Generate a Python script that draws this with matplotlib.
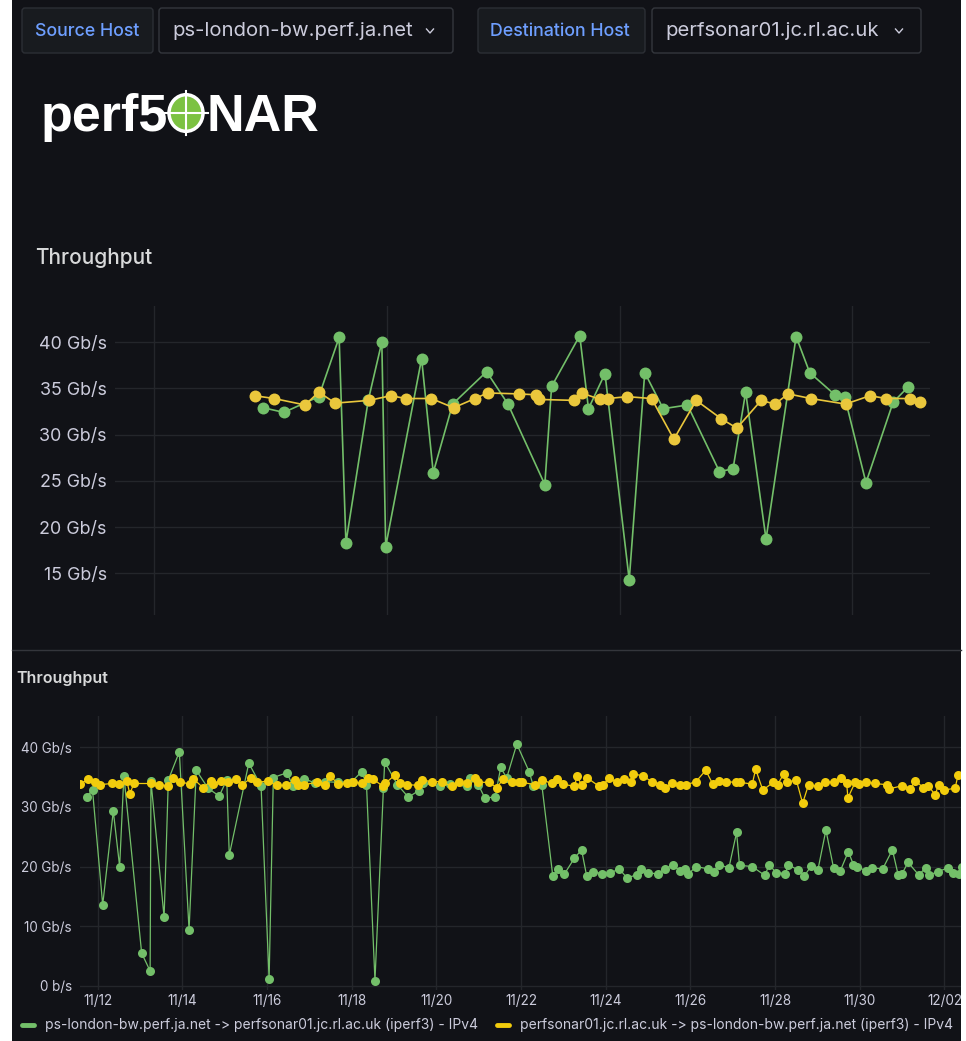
import matplotlib
matplotlib.use("Agg")
import matplotlib.pyplot as plt
import numpy as np
from matplotlib.patches import FancyBboxPatch, Rectangle, Circle
from matplotlib.lines import Line2D

plt.rcParams['font.family'] = ['Inter', 'DejaVu Sans']

# Figure size in pixels
W, H = 966, 1041

# Colours (Grafana dark theme)
bg = '#111217'
green = '#73BF69'
yellow_top = '#EAC73C'
yellow_bot = '#F2CC0C'
text_col = '#ccccdc'
grid_col = '#24262b'

#**********************
# Data - top panel (hours, Gb/s)
#**********************
top_green_h = [11.3, 13.4, 17.0, 19.1, 19.8, 22.1, 23.5, 23.9, 27.6, 28.8,
               30.8, 34.3, 36.5, 40.3, 41.0, 43.9, 44.8, 46.5, 49.0, 50.6,
               52.5, 55.0, 58.3, 59.7, 61.0, 63.1, 66.2, 67.6, 70.2, 71.2,
               73.4, 76.2, 77.7]
top_green_v = [32.9, 32.4, 34.1, 40.5, 18.3, 33.7, 40.0, 17.9, 38.2, 25.9,
               33.3, 36.8, 33.3, 24.6, 35.2, 40.7, 32.8, 36.6, 14.3, 36.7,
               32.8, 33.2, 26.0, 26.3, 34.6, 18.7, 40.6, 36.7, 34.3, 34.1,
               24.8, 33.5, 35.1]

top_yellow_h = [10.4, 12.4, 15.6, 17.0, 18.7, 22.2, 24.4, 26.0, 28.6, 30.9,
                33.1, 34.4, 37.6, 39.4, 39.7, 43.3, 44.1, 46.0, 46.8, 48.8,
                51.3, 53.6, 55.9, 58.5, 60.1, 62.6, 64.0, 65.4, 67.7, 71.3,
                73.8, 75.5, 77.9, 79.0]
top_yellow_v = [34.2, 33.9, 33.2, 34.6, 33.4, 33.7, 34.2, 33.9, 33.9, 32.9,
                33.9, 34.5, 34.4, 34.3, 33.8, 33.7, 34.5, 33.8, 33.9, 34.1,
                33.9, 29.5, 33.7, 31.7, 30.7, 33.7, 33.3, 34.4, 33.9, 33.3,
                34.2, 33.9, 33.9, 33.5]

#**********************
# Data - bottom panel (days after 11/12, Gb/s)
#**********************
bot_green_d = [-0.26, -0.12, 0.12, 0.37, 0.52, 0.62, 1.04, 1.24, 1.26, 1.57,
               1.67, 1.93, 2.16, 2.33, 2.61, 2.87, 3.05, 3.11, 3.57, 3.86,
               4.05, 4.15, 4.47, 4.62, 4.88, 5.13, 5.37, 5.68, 6.00, 6.24,
               6.35, 6.55, 6.75, 6.78, 7.08, 7.34, 7.58, 7.68, 8.09, 8.32,
               8.72, 8.80, 8.99, 9.15, 9.39, 9.52, 9.66, 9.90, 10.19, 10.29,
               10.49, 10.75, 10.87, 11.02, 11.26, 11.43, 11.55, 11.71, 11.92, 12.10,
               12.32, 12.50, 12.73, 12.84, 13.01, 13.23, 13.39, 13.58, 13.76, 13.87,
               13.95, 14.13, 14.42, 14.56, 14.67, 14.91, 15.09, 15.16, 15.46, 15.76,
               15.86, 16.02, 16.24, 16.31, 16.55, 16.69, 16.85, 17.01, 17.20, 17.38,
               17.54, 17.73, 17.85, 17.93, 18.14, 18.28, 18.54, 18.77, 18.91, 18.99,
               19.14, 19.39, 19.56, 19.64, 19.84, 20.08, 20.21, 20.35, 20.41]
bot_green_v = [31.7, 32.8, 13.6, 29.3, 20.0, 35.2, 5.5, 2.5, 34.3, 11.5,
               34.5, 39.2, 9.4, 36.1, 33.1, 31.8, 34.5, 21.9, 37.3, 33.5,
               1.1, 34.9, 35.7, 33.4, 34.7, 34.0, 34.2, 34.1, 34.2, 35.9,
               33.7, 0.9, 33.1, 37.5, 33.7, 31.6, 32.7, 34.0, 33.4, 33.8,
               33.4, 34.9, 33.7, 31.4, 31.7, 36.6, 34.8, 40.5, 35.9, 33.5,
               33.7, 18.4, 19.6, 18.7, 21.4, 22.8, 18.4, 19.1, 18.8, 18.9,
               19.6, 18.1, 18.6, 19.6, 18.9, 18.8, 19.6, 20.2, 19.3, 19.6,
               18.7, 20.0, 19.6, 19.1, 20.3, 19.8, 25.7, 20.2, 20.0, 18.5,
               20.3, 19.0, 18.8, 20.3, 19.4, 18.4, 20.1, 19.4, 26.1, 19.8,
               19.3, 22.5, 20.3, 20.0, 19.3, 19.8, 19.6, 22.8, 18.5, 18.7,
               20.7, 18.6, 19.8, 18.6, 19.1, 19.8, 19.0, 18.7, 20.0]

bot_yellow_d = [-0.42, -0.22, -0.06, 0.05, 0.33, 0.51, 0.69, 0.76, 0.86, 1.25,
                1.46, 1.67, 1.79, 1.94, 2.18, 2.26, 2.49, 2.67, 2.73, 2.91,
                3.09, 3.28, 3.40, 3.62, 3.76, 4.02, 4.23, 4.46, 4.66, 4.74,
                4.88, 5.17, 5.37, 5.49, 5.68, 5.88, 6.04, 6.24, 6.39, 6.51,
                6.75, 6.79, 7.02, 7.14, 7.30, 7.57, 7.65, 7.89, 8.13, 8.36,
                8.54, 8.72, 8.91, 8.99, 9.24, 9.43, 9.58, 9.78, 9.94, 10.02,
                10.33, 10.49, 10.73, 10.84, 11.00, 11.26, 11.32, 11.43, 11.55, 11.83,
                11.94, 12.08, 12.26, 12.44, 12.60, 12.65, 12.87, 13.09, 13.28, 13.39,
                13.56, 13.76, 13.90, 14.13, 14.36, 14.53, 14.68, 14.83, 15.08, 15.17,
                15.46, 15.54, 15.71, 15.96, 16.06, 16.20, 16.28, 16.50, 16.65, 16.79,
                17.02, 17.17, 17.38, 17.56, 17.69, 17.72, 17.89, 17.97, 18.15, 18.35,
                18.64, 18.69, 18.99, 19.19, 19.31, 19.50, 19.62, 19.78, 19.86, 19.98,
                20.25, 20.32]
bot_yellow_v = [33.8, 34.6, 34.2, 33.7, 33.9, 33.8, 34.3, 32.2, 33.9, 33.9,
                33.7, 33.5, 34.9, 34.2, 33.8, 34.7, 33.2, 34.3, 33.8, 34.3,
                34.1, 34.7, 33.6, 34.8, 34.1, 34.3, 33.6, 33.6, 34.5, 33.7,
                33.7, 34.1, 33.7, 35.2, 33.8, 33.9, 34.2, 33.9, 34.8, 34.6,
                33.4, 33.9, 35.3, 33.9, 33.7, 33.6, 34.5, 34.2, 34.2, 33.4,
                34.2, 33.9, 34.9, 34.1, 34.1, 33.2, 34.7, 34.1, 34.1, 34.1,
                33.7, 34.5, 33.9, 34.7, 33.8, 33.4, 35.1, 33.7, 34.9, 33.5,
                33.7, 34.8, 34.1, 34.7, 34.1, 35.5, 35.2, 34.2, 33.7, 33.2,
                33.9, 33.7, 33.7, 34.2, 36.1, 33.8, 34.3, 34.2, 34.1, 34.1,
                33.8, 36.3, 32.8, 34.1, 33.7, 35.5, 34.1, 34.5, 30.6, 33.7,
                33.4, 34.2, 34.1, 34.8, 33.9, 31.5, 34.1, 33.8, 34.2, 33.9,
                33.7, 33.0, 33.5, 33.0, 34.4, 33.2, 33.5, 32.0, 33.7, 32.8,
                33.1, 35.3]

top_yticks = [15, 20, 25, 30, 35, 40]
bot_yticks = [0, 10, 20, 30, 40]
bot_xtick_days = [0, 2, 4, 6, 8, 10, 12, 14, 16, 18, 20]

source_host = 'ps-london-bw.perf.ja.net'
dest_host = 'perfsonar01.jc.rl.ac.uk'
legend_labels = [source_host + ' -> ' + dest_host + ' (iperf3) - IPv4',
                 dest_host + ' -> ' + source_host + ' (iperf3) - IPv4']

start = np.datetime64('2024-11-12T00:00')


def to_dates(days):
    return start + (np.array(days) * 24 * 60).round().astype('timedelta64[m]')


# pixel helpers
def fx(x):
    return x / W


def fy(y):
    return 1 - y / H


def ax_rect(x0, y0, x1, y1):
    return [x0 / W, 1 - y1 / H, (x1 - x0) / W, (y1 - y0) / H]


fig = plt.figure(figsize=(W / 100, H / 100), dpi=100, facecolor=bg)

# white border strips of the screenshot
fig.patches.append(Rectangle((0, 0), fx(12), 1, transform=fig.transFigure,
                             facecolor='white', edgecolor='none', zorder=0))
fig.patches.append(Rectangle((fx(961), 0), fx(5) + 0.001, 1, transform=fig.transFigure,
                             facecolor='white', edgecolor='none', zorder=0))

#**********************
# Variable pickers
#**********************
def box(x0, y0, x1, y1, fc, ec):
    p = FancyBboxPatch((fx(x0), fy(y1)), (x1 - x0) / W, (y1 - y0) / H,
                       boxstyle='round,pad=0,rounding_size=0.003',
                       transform=fig.transFigure, facecolor=fc, edgecolor=ec, lw=1)
    fig.patches.append(p)


def chevron(x, y):
    fig.add_artist(Line2D([fx(x - 3.5), fx(x), fx(x + 3.5)], [fy(y - 2), fy(y + 2), fy(y - 2)],
                          transform=fig.transFigure, color=text_col, lw=1))


box(22, 8, 153, 53, '#181b1f', '#2c2f35')
box(159, 8, 453, 53, '#111217', '#34373d')
box(478, 8, 645, 53, '#181b1f', '#2c2f35')
box(652, 8, 921, 53, '#111217', '#34373d')
fig.text(fx(35), fy(31), 'Source Host', color='#6e9fff', fontsize=12.8,
         fontweight='medium', va='center')
fig.text(fx(172), fy(31), source_host, color=text_col, fontsize=14.6, va='center')
chevron(430, 31)
fig.text(fx(490), fy(31), 'Destination Host', color='#6e9fff', fontsize=12.8,
         fontweight='medium', va='center')
fig.text(fx(665), fy(31), dest_host, color=text_col, fontsize=14.6, va='center')
chevron(899, 31)

#**********************
# perfSONAR logo
#**********************
fig.text(fx(41), fy(131), 'perf5', color='white', fontsize=37.5, fontweight='bold',
         family=['Liberation Sans', 'DejaVu Sans'], va='baseline')
fig.patches.append(Circle((fx(186), fy(113)), 17 / W, transform=fig.transFigure,
                          facecolor='#7cc242', edgecolor='white', lw=2.5, zorder=3))
fig.add_artist(Line2D([fx(186), fx(186)], [fy(91), fy(135)], transform=fig.transFigure,
                      color='white', lw=1.5, zorder=4))
fig.add_artist(Line2D([fx(164), fx(208)], [fy(113), fy(113)], transform=fig.transFigure,
                      color='white', lw=1.5, zorder=4))
fig.text(fx(207), fy(131), 'NAR', color='white', fontsize=37.5, fontweight='bold',
         family=['Liberation Sans', 'DejaVu Sans'], va='baseline')

#**********************
# Top panel
#**********************
fig.text(fx(35), fy(258), 'Throughput', color='#d8d9da', fontsize=15,
         fontweight='medium', va='center')

ax1 = fig.add_axes(ax_rect(115, 306, 930, 615))
ax1.set_facecolor('none')
ax1.plot(top_green_h, top_green_v, color=green, lw=1.2, marker='o', ms=8.6,
         markeredgewidth=0, zorder=3)
ax1.plot(top_yellow_h, top_yellow_v, color=yellow_top, lw=1.2, marker='o', ms=8.6,
         markeredgewidth=0, zorder=4)
ax1.set_xlim(-4.0, 80.0)
ax1.set_ylim(10.5, 43.9)
ax1.set_xticks([0, 24, 48, 72])
ax1.set_xticklabels([])
ax1.set_yticks(top_yticks)
ax1.set_yticklabels([f'{t} Gb/s' for t in top_yticks])
ax1.tick_params(length=0, colors=text_col, labelsize=12.9, pad=6)
ax1.grid(True, color=grid_col, lw=1)
for s in ax1.spines.values():
    s.set_visible(False)

# separator between the two screenshots
fig.add_artist(Line2D([fx(12), fx(961)], [fy(650), fy(650)], transform=fig.transFigure,
                      color='#34363c', lw=1))

#**********************
# Bottom panel
#**********************
fig.text(fx(16), fy(679), 'Throughput', color='#d8d9da', fontsize=11.5,
         fontweight='semibold', va='center')

ax2 = fig.add_axes(ax_rect(80, 716, 961, 990))
ax2.set_facecolor('none')
ax2.plot(to_dates(bot_green_d), bot_green_v, color=green, lw=0.9, marker='o', ms=6.5,
         markeredgewidth=0, zorder=3)
ax2.plot(to_dates(bot_yellow_d), bot_yellow_v, color=yellow_bot, lw=0.9, marker='o', ms=6.5,
         markeredgewidth=0, zorder=4)
ax2.set_xlim(to_dates([-0.416, 20.39]))
ax2.set_ylim(-0.67, 45.2)
ticks = to_dates(bot_xtick_days)
ax2.set_xticks(ticks)
ax2.set_xticklabels([str(t.astype('datetime64[D]'))[5:].replace('-', '/') for t in ticks])
ax2.set_yticks(bot_yticks)
ax2.set_yticklabels([f'{t} Gb/s' if t > 0 else '0 b/s' for t in bot_yticks])
ax2.tick_params(length=0, colors=text_col, labelsize=9.7)
ax2.tick_params(axis='y', pad=6)
ax2.tick_params(axis='x', pad=3)
ax2.grid(True, color=grid_col, lw=1)
for s in ax2.spines.values():
    s.set_visible(False)

# legend row
for x_mark, x_text, col, lab in [(22, 45, green, legend_labels[0]),
                                  (497, 520, yellow_bot, legend_labels[1])]:
    fig.add_artist(Line2D([fx(x_mark), fx(x_mark + 12)], [fy(1025), fy(1025)],
                          transform=fig.transFigure, color=col, lw=3.5,
                          solid_capstyle='round'))
    fig.text(fx(x_text), fy(1025), lab, color=text_col, fontsize=10.0, va='center')

plt.savefig('out.png', dpi=100, facecolor=bg)
